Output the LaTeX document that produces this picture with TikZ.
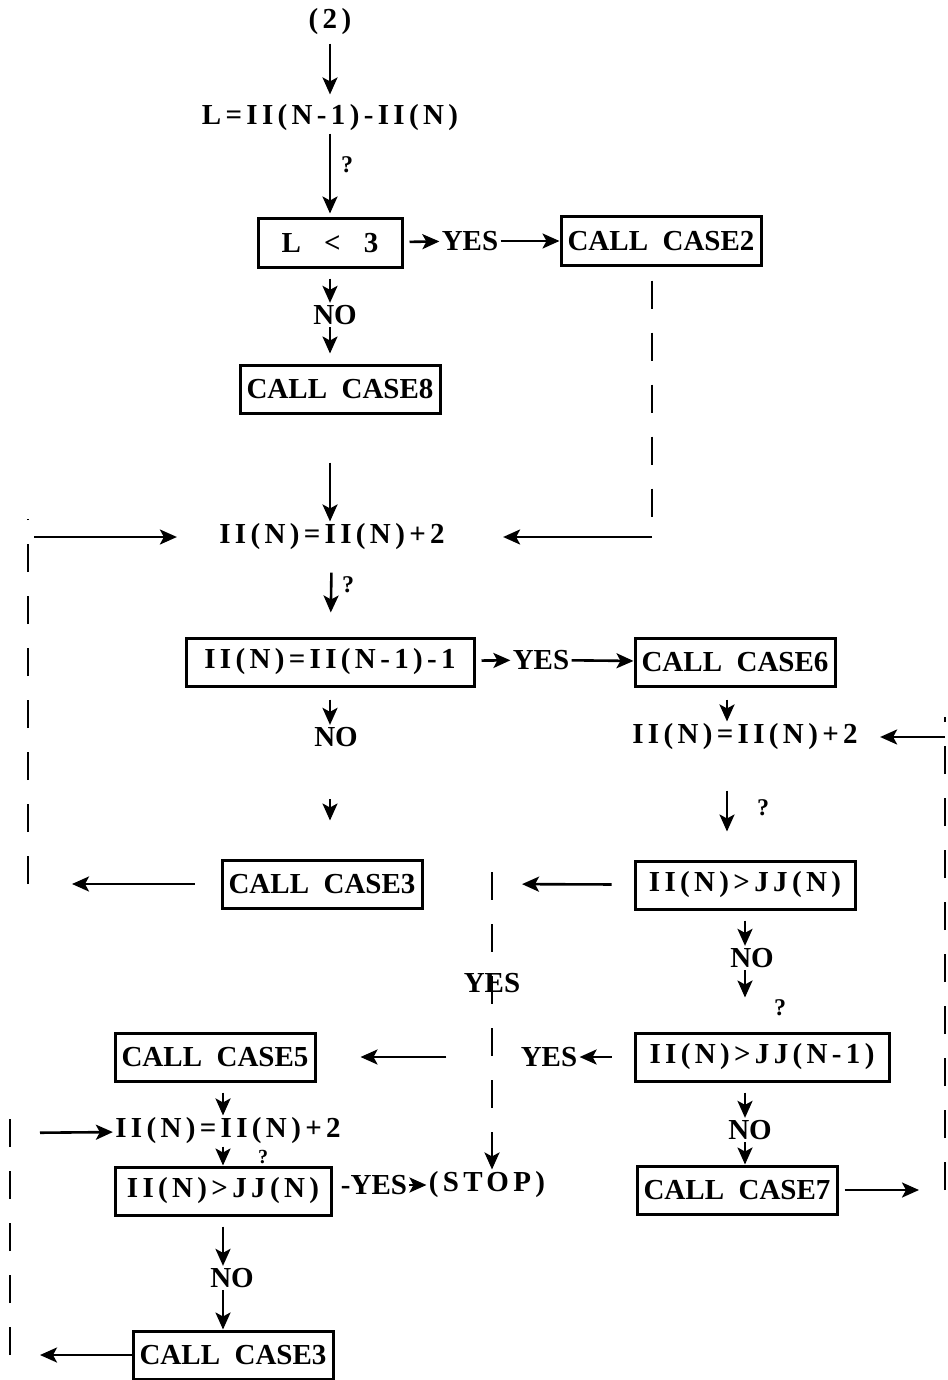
\documentclass[tikz,border=0pt]{standalone}
\usepackage{fontspec}
\setmainfont{Liberation Serif}
\newfontfamily\formfont{Liberation Serif}[LetterSpace=15]
\usetikzlibrary{arrows.meta}
\begin{document}
\begin{tikzpicture}[x=0.5pt,y=-0.5pt,>={Stealth[length=8.5pt,width=7.5pt,inset=2pt]},
  box/.style={draw,line width=1.5pt,minimum width=100pt,minimum height=24pt,inner sep=3pt,font=\bfseries\fontsize{14.5}{16}\selectfont},
  txt/.style={inner sep=1pt,font=\bfseries\fontsize{14.5}{16}\selectfont},
  form/.style={font=\formfont\bfseries\fontsize{14.5}{16}\selectfont},
  qmark/.style={inner sep=0pt,font=\bfseries\fontsize{12}{14}\selectfont},
  arrow/.style={->,line width=1.3pt},
  bus/.style={line width=1.3pt,dash pattern=on 14pt off 12pt}]
  \useasboundingbox (0,0) rectangle (947,1380);
  \node[txt,form] (start) at (330,22) {(2)};
  \node[txt,form] (ldef) at (330,118) {L=II(N-1)-II(N)};
  \node[box,form,minimum width=72pt] (lt3) at (330,243) {L~~<~~3};
  \node[txt] (yes1) at (470,241) {YES};
  \node[box] (case2) at (661,241) {CALL~~CASE2};
  \node[txt] (no1) at (335,315) {NO};
  \node[box] (case8) at (340,389) {CALL~~CASE8};
  \node[txt,form] (inc1) at (332,537) {II(N)=II(N)+2};
  \node[box,form,minimum width=144pt] (eq1) at (330,662) {II(N)=II(N-1)-1};
  \node[txt] (yes2) at (541,660) {YES};
  \node[box] (case6) at (735,662) {CALL~~CASE6};
  \node[txt] (no2) at (336,737) {NO};
  \node[txt,form] (inc2) at (745,737) {II(N)=II(N)+2};
  \node[box] (case3a) at (322,884) {CALL~~CASE3};
  \node[box,form,minimum width=110pt] (gt1) at (745,885) {II(N)>JJ(N)};
  \node[txt] (no3) at (752,958) {NO};
  \node[txt] (yesv) at (492,983) {YES};
  \node[box,form,minimum width=127pt] (gt2) at (762,1057) {II(N)>JJ(N-1)};
  \node[txt] (yes3) at (549,1057) {YES};
  \node[box] (case5) at (215,1057) {CALL~~CASE5};
  \node[txt,form] (inc3) at (228,1131) {II(N)=II(N)+2};
  \node[box,form,minimum width=108pt] (gt3) at (223,1191) {II(N)>JJ(N)};
  \node[txt] (yes4) at (374,1185) {-YES};
  \node[txt,form] (stop) at (487,1185) {(STOP)};
  \node[txt] (no4) at (232,1278) {NO};
  \node[box] (case3b) at (233,1355) {CALL~~CASE3};
  \node[txt] (no5) at (750,1130) {NO};
  \node[box] (case7) at (737,1190) {CALL~~CASE7};
  \node[qmark] (q1) at (347,165) {?};
  \node[qmark] (q2) at (348,585) {?};
  \node[qmark] (q3) at (763,808) {?};
  \node[qmark] (q4) at (780,1008) {?};
  \node[qmark,font=\bfseries\fontsize{10}{12}\selectfont] (q5) at (263,1157) {?};
  \coordinate (rb1) at (652,537);
  \coordinate (lb1) at (28,537);
  \coordinate (lb2) at (28,884);
  \coordinate (rb2) at (945,737);
  \coordinate (rb3) at (945,1190);
  \coordinate (mb1) at (492,884);
  \coordinate (lb3) at (10,1133);
  \coordinate (lb4) at (10,1355);
  \draw[arrow,shorten <=3pt,shorten >=4pt] (start) -- (ldef);
  \draw[arrow,shorten >=2pt] (ldef) -- (lt3);
  \draw[arrow,shorten <=3pt] (lt3) -- (yes1);
  \draw[arrow] (yes1) -- (case2);
  \draw[arrow,shorten <=5pt] (lt3) -- (no1.north -| lt3);
  \draw[arrow,shorten >=5pt] (no1.south -| lt3) -- (case8.north -| lt3);
  \draw[arrow,shorten <=24pt] (case8.south -| lt3) -- (inc1.north -| lt3);
  \draw[bus,shorten <=7pt] (case2.south -| rb1) -- (rb1);
  \draw[arrow,shorten >=28pt] (rb1) -- (inc1);
  \draw[bus] (lb2) -- ([yshift=9pt]lb1);
  \draw[arrow,shorten <=3pt,shorten >=20pt] (lb1) -- (inc1);
  \draw[arrow,shorten <=10pt,shorten >=12pt] (inc1) -- (eq1);
  \draw[arrow,shorten <=3pt] (eq1) -- (yes2);
  \draw[arrow] (yes2) -- (case6);
  \draw[arrow,shorten <=6pt] (eq1.south) -- (eq1.south |- no2.north);
  \draw[arrow,shorten <=25pt,shorten >=19pt] (eq1.south |- no2.south) -- (eq1.south |- case3a.north);
  \draw[arrow,shorten <=13pt,shorten >=22pt] (case3a) -- (lb2);
  \draw[arrow,shorten <=6pt] ([xshift=-4pt]case6.south) -- ([xshift=-4pt]case6.south |- inc2.north);
  \draw[bus] (rb3) -- ([yshift=10pt]rb2);
  \draw[arrow,shorten >=10pt] (rb2) -- (inc2);
  \draw[arrow,shorten <=3pt,shorten >=13pt] (case7) -- (rb3);
  \draw[arrow,shorten <=19pt,shorten >=14pt] ([xshift=-9pt]inc2.south) -- ([xshift=-9pt]gt1.north);
  \draw[arrow,shorten <=11pt,shorten >=15pt] (gt1) -- (mb1);
  \draw[bus,->] ([yshift=6pt]mb1) -- (mb1 |- stop.north);
  \draw[arrow,shorten <=5pt] (gt1.south) -- (gt1.south |- no3.north);
  \draw[arrow,shorten >=17pt] (gt1.south |- no3.south) -- (gt1.south |- gt2.north);
  \draw[arrow,shorten <=11pt] (gt2) -- (yes3);
  \draw[arrow,shorten <=36pt,shorten >=22pt] (yes3) -- (case5);
  \draw[arrow,shorten <=5pt] (gt2.south -| gt1) -- (gt1 |- no5.north);
  \draw[arrow] (gt1 |- no5.south) -- (gt1 |- case7.north);
  \draw[arrow,shorten <=5pt] (case5.south -| gt3) -- (gt3 |- inc3.north);
  \draw[arrow] (gt3 |- inc3.south) -- (gt3.north);
  \draw[arrow] (yes4) -- (stop);
  \draw[arrow,shorten <=5pt] (gt3.south) -- (gt3.south |- no4.north);
  \draw[arrow] (gt3.south |- no4.south) -- (gt3.south |- case3b.north);
  \draw[arrow,shorten >=15pt] (case3b) -- (lb4);
  \draw[bus] (lb4) -- ([yshift=19pt]lb3);
  \draw[arrow,shorten <=15pt] (lb3) -- (inc3);
\end{tikzpicture}
\end{document}
